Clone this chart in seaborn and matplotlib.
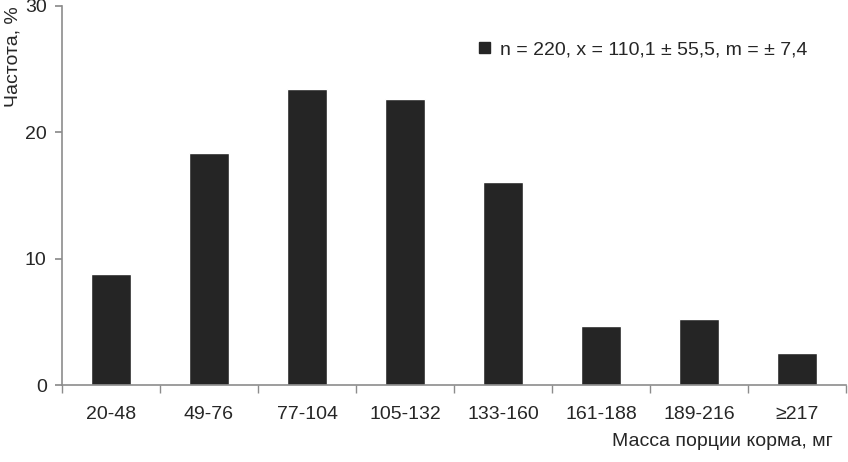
import matplotlib
matplotlib.use("Agg")
import matplotlib.pyplot as plt
import seaborn as sns
import pandas as pd
from matplotlib.patches import Patch

categories = ["20-48", "49-76", "77-104", "105-132", "133-160", "161-188", "189-216", "≥217"]
values = [8.8, 18.4, 23.4, 22.6, 16.1, 4.7, 5.2, 2.5]
yticks = [0, 10, 20, 30]
legend_label = "n = 220, x = 110,1 ± 55,5, m = ± 7,4"

sns.set_theme(style="white")
plt.rcParams['font.family'] = ['Liberation Sans Narrow', 'Liberation Sans', 'DejaVu Sans']

df = pd.DataFrame({"cat": categories, "val": values})

fig = plt.figure(figsize=(8.48, 4.62), dpi=100)
ax = fig.add_axes([62/848, 1-385/462, (846-62)/848, (385-6)/462])
sns.barplot(data=df, x="cat", y="val", color="#252525", width=0.41, ax=ax, saturation=1)

ax.set_ylim(0, 30)
ax.set_xlim(-0.5, len(categories) - 0.5)
ax.set_yticks(yticks)
ax.set_xlabel("")
ax.set_ylabel("")
for s in ["top", "right"]:
    ax.spines[s].set_visible(False)
for s in ["left", "bottom"]:
    ax.spines[s].set_color("#8c8c8c")
    ax.spines[s].set_linewidth(1.2)

ax.tick_params(axis="y", which="major", left=True, length=5, color="#8c8c8c", labelsize=14, pad=6)
ax.set_xticks(range(len(categories)))
ax.set_xticklabels(categories)
ax.tick_params(axis="x", which="major", bottom=False, labelsize=14, pad=9)
ax.set_xticks([i - 0.5 for i in range(len(categories) + 1)], minor=True)
ax.tick_params(axis="x", which="minor", bottom=True, length=6, color="#8c8c8c")

fig.text(13/848, 1-57/462, "Частота, %", rotation=90, ha="center", va="center", fontsize=14)
fig.text(833/848, 1-441/462, "Масса порции корма, мг", ha="right", va="center", fontsize=14)

handle = Patch(facecolor="#252525", edgecolor="#252525")
ax.legend([handle], [legend_label], loc="upper left", bbox_to_anchor=(462/848, 1-24/462),
          bbox_transform=fig.transFigure, frameon=False, fontsize=14,
          handlelength=0.55, handleheight=0.55, handletextpad=0.5)

fig.savefig("out.png", dpi=100)
